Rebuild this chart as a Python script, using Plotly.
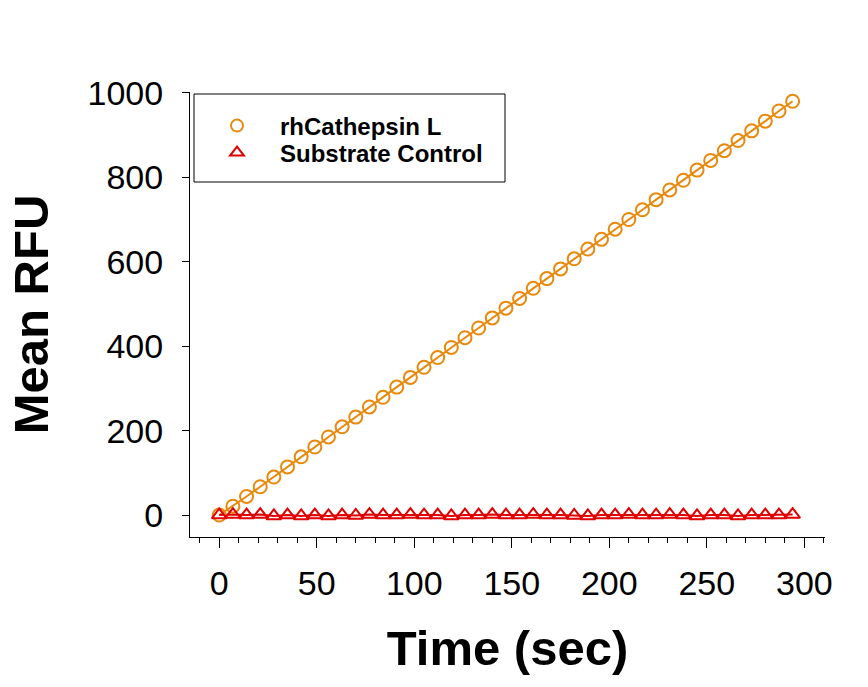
import plotly.graph_objects as go

time_sec = [0, 7, 14, 21, 28, 35, 42, 49, 56, 63, 70, 77, 84, 91, 98, 105, 112, 119, 126, 133, 140,
            147, 154, 161, 168, 175, 182, 189, 196, 203, 210, 217, 224, 231, 238, 245, 252, 259, 266,
            273, 280, 287, 294]
cathepsin_rfu = [0, 21, 44, 67, 90, 114, 138, 161, 185, 209, 232, 256, 279, 303, 326, 350, 373, 397,
                 420, 443, 467, 490, 513, 537, 560, 583, 607, 630, 653, 677, 700, 723, 747, 770, 793,
                 817, 840, 863, 887, 910, 933, 957, 980]
control_rfu = [0, 1, 0, 1, -2, 0, -2, 0, -2, 0, -1, 1, 0, 0, 1, 0, 0, -2, 0, 0, 1, 0, 0, 1, 0, 0, -1,
               -2, 0, 0, 1, 0, 0, 1, 0, -2, 0, 0, -2, 0, 0, 0, 1]

series_names = ["rhCathepsin L", "Substrate Control"]
orange = "#E8890C"
red = "#E00000"
font = "Arial, Liberation Sans, sans-serif"

fig = go.Figure()
fig.add_trace(go.Scatter(x=time_sec, y=cathepsin_rfu, mode="lines",
                         line=dict(color=orange, width=2), showlegend=False, hoverinfo="skip"))
fig.add_trace(go.Scatter(x=time_sec, y=control_rfu, mode="lines",
                         line=dict(color=red, width=2), showlegend=False, hoverinfo="skip"))
fig.add_trace(go.Scatter(x=time_sec, y=cathepsin_rfu, mode="markers", name=series_names[0],
                         legend="legend",
                         marker=dict(symbol="circle-open", size=13, color=orange,
                                     line=dict(width=2, color=orange))))
fig.add_trace(go.Scatter(x=time_sec, y=control_rfu, mode="markers", name=series_names[1],
                         legend="legend2",
                         marker=dict(symbol="triangle-up-open", size=13, color=red,
                                     line=dict(width=2, color=red))))

PX0, PY0, PW, PH = 190, 92, 635, 445  # plot area in pixels (for paper coords)


def px_x(x):
    return (x - PX0) / PW


def px_y(y):
    return (PY0 + PH - y) / PH


legend_font = dict(size=24, family=font, color="black", weight="bold")
common_legend = dict(xanchor="left", yanchor="middle", bgcolor="rgba(0,0,0,0)", borderwidth=0,
                     font=legend_font, itemwidth=76, itemsizing="constant")

fig.update_layout(
    width=868, height=687,
    margin=dict(l=PX0, r=868 - PX0 - PW, t=PY0, b=687 - PY0 - PH),
    paper_bgcolor="white", plot_bgcolor="white",
    font=dict(family=font, color="black"),
    showlegend=True,
    legend=dict(x=px_x(194), y=px_y(126), **common_legend),
    legend2=dict(x=px_x(194), y=px_y(153), **common_legend),
    shapes=[dict(type="rect", xref="paper", yref="paper",
                 x0=px_x(194), x1=px_x(505), y0=px_y(182), y1=px_y(94),
                 line=dict(color="black", width=1), fillcolor="rgba(0,0,0,0)")],
)

fig.update_xaxes(
    range=[-15, 310.6], tickmode="linear", tick0=0, dtick=50,
    showline=True, linecolor="black", linewidth=1, showgrid=False, zeroline=False,
    ticks="outside", ticklen=10, tickwidth=1, tickcolor="black",
    minor=dict(dtick=10, tick0=0, ticks="outside", ticklen=5, tickwidth=1, tickcolor="black", showgrid=False),
    tickfont=dict(size=34, family=font, color="black"), ticklabelstandoff=6,
    title=dict(text="Time (sec)", font=dict(size=49, family=font, color="black", weight="bold"), standoff=29),
)
fig.update_yaxes(
    range=[-52, 1002], tickmode="linear", tick0=0, dtick=200,
    showline=True, linecolor="black", linewidth=1, showgrid=False, zeroline=False,
    ticks="outside", ticklen=7, tickwidth=1, tickcolor="black",
    tickfont=dict(size=34, family=font, color="black"), ticklabelstandoff=12,
    title=dict(text="Mean RFU", font=dict(size=49, family=font, color="black", weight="bold"), standoff=23),
)

fig.write_html("out.html")
